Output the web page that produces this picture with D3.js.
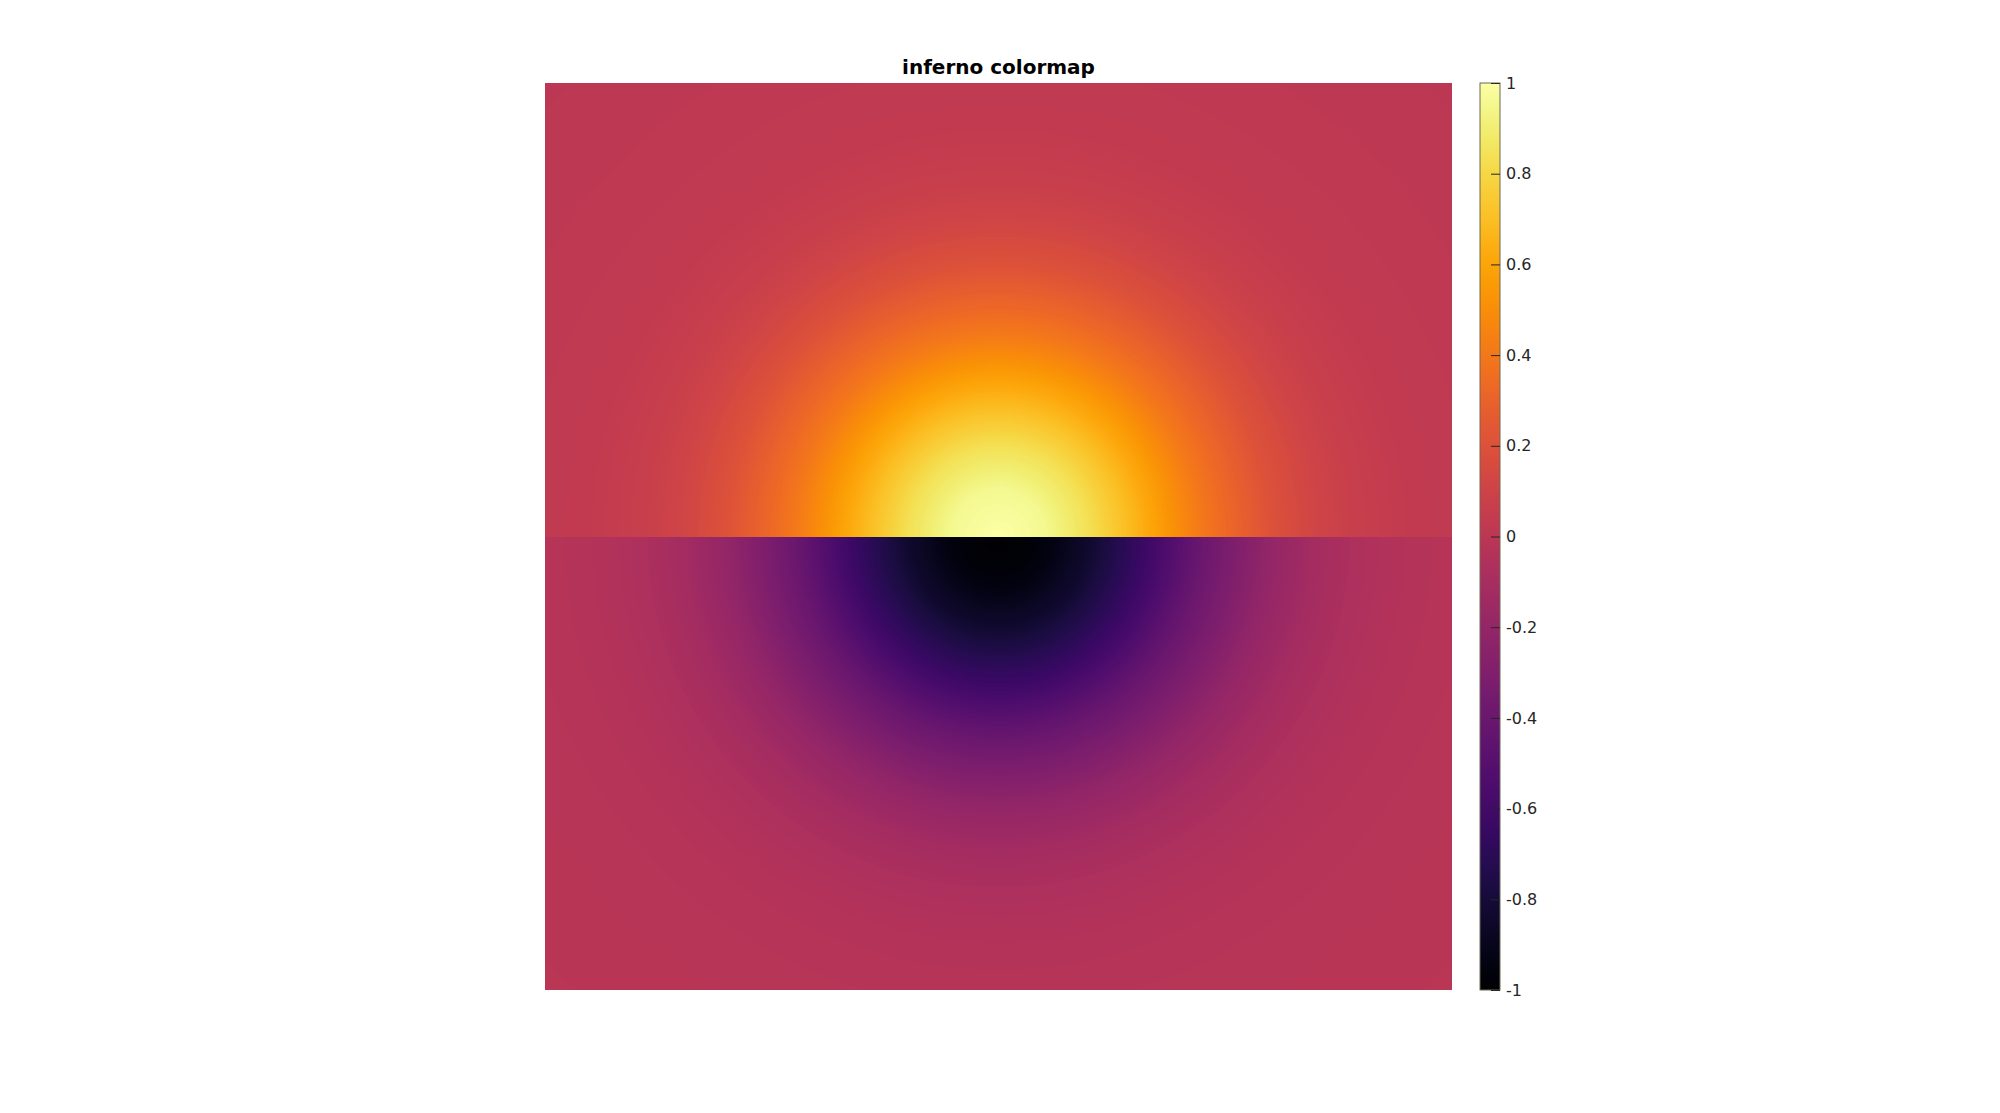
<!DOCTYPE html>
<html>
<head>
<meta charset="utf-8">
<script src="https://cdn.jsdelivr.net/npm/d3@7"></script>
<style>
  html, body { margin: 0; padding: 0; background: #ffffff; }
  svg { display: block; }
</style>
</head>
<body>
<script>
// ---- data ----
// radial profile of |value| against distance from the centre (axis units, half-width = 1);
// the upper half carries +profile, the lower half -profile
const radii   = [0, 0.1, 0.2, 0.25, 0.3, 0.35, 0.4, 0.45, 0.5, 0.6, 0.7, 0.8, 0.9, 1.0, 1.2, 1.42];
const profile = [1, 0.956, 0.836, 0.755, 0.668, 0.577, 0.488, 0.40, 0.33, 0.20, 0.115, 0.065, 0.038, 0.026, 0.014, 0.006];
const xDomain = [-1, 1];
const yDomain = [-1, 1];
const colorDomain = [-1, 1];
const cbTicks = [1, 0.8, 0.6, 0.4, 0.2, 0, -0.2, -0.4, -0.6, -0.8, -1];
const titleText = "inferno colormap";

// ---- layout ----
const W = 2000, H = 1113;
const img = { x0: 545, x1: 1452, y0: 83, y1: 990 };
const cb = { x0: 1480, x1: 1500, y0: 83, y1: 990 };

const svg = d3.select("body").append("svg").attr("width", W).attr("height", H);

const xScale = d3.scaleLinear().domain(xDomain).range([img.x0, img.x1]);
const yScale = d3.scaleLinear().domain(yDomain).range([img.y1, img.y0]);
const rScale = d3.scaleLinear().domain(radii).range(profile).clamp(true);
const color = d3.scaleSequential(d3.interpolateInferno).domain(colorDomain);

// render field into a canvas
const iw = img.x1 - img.x0, ih = img.y1 - img.y0;
const canvas = document.createElement("canvas");
canvas.width = iw; canvas.height = ih;
const ctx = canvas.getContext("2d");
const id = ctx.createImageData(iw, ih);
for (let j = 0; j < ih; j++) {
  const y = yScale.invert(img.y0 + j + 0.5);
  for (let i = 0; i < iw; i++) {
    const x = xScale.invert(img.x0 + i + 0.5);
    const r = Math.sqrt(x * x + y * y);
    const v = (y >= 0 ? 1 : -1) * rScale(r);
    const c = d3.rgb(color(v));
    const k = (j * iw + i) * 4;
    id.data[k] = c.r; id.data[k + 1] = c.g; id.data[k + 2] = c.b; id.data[k + 3] = 255;
  }
}
ctx.putImageData(id, 0, 0);
svg.append("image")
  .attr("x", img.x0).attr("y", img.y0)
  .attr("width", iw).attr("height", ih)
  .attr("preserveAspectRatio", "none")
  .attr("href", canvas.toDataURL());

// title
svg.append("text")
  .attr("x", (img.x0 + img.x1) / 2).attr("y", 74)
  .attr("text-anchor", "middle")
  .attr("font-family", "DejaVu Sans, sans-serif")
  .attr("font-weight", "bold")
  .attr("font-size", 20)
  .attr("fill", "#000")
  .text(titleText);

// colorbar
const cbScale = d3.scaleLinear().domain(colorDomain).range([cb.y1, cb.y0]);
const defs = svg.append("defs");
const grad = defs.append("linearGradient").attr("id", "cbgrad")
  .attr("x1", 0).attr("y1", 1).attr("x2", 0).attr("y2", 0);
d3.range(0, 1.0001, 0.02).forEach(t => {
  grad.append("stop").attr("offset", t).attr("stop-color", d3.interpolateInferno(t));
});
svg.append("rect")
  .attr("x", cb.x0).attr("y", cb.y0)
  .attr("width", cb.x1 - cb.x0).attr("height", cb.y1 - cb.y0)
  .attr("fill", "url(#cbgrad)")
  .attr("stroke", "#6b6b55").attr("stroke-width", 1);

const axis = d3.axisRight(cbScale)
  .tickValues(cbTicks)
  .tickSize(-9)
  .tickPadding(6)
  .tickFormat(d => String(d));
const ag = svg.append("g").attr("transform", `translate(${cb.x1},0)`).call(axis);
ag.select(".domain").remove();
ag.selectAll(".tick line").attr("stroke", "#262626").attr("stroke-width", 1);
ag.selectAll(".tick text")
  .attr("fill", "#262626")
  .attr("font-family", "DejaVu Sans, sans-serif")
  .attr("font-size", 16);
</script>
</body>
</html>
